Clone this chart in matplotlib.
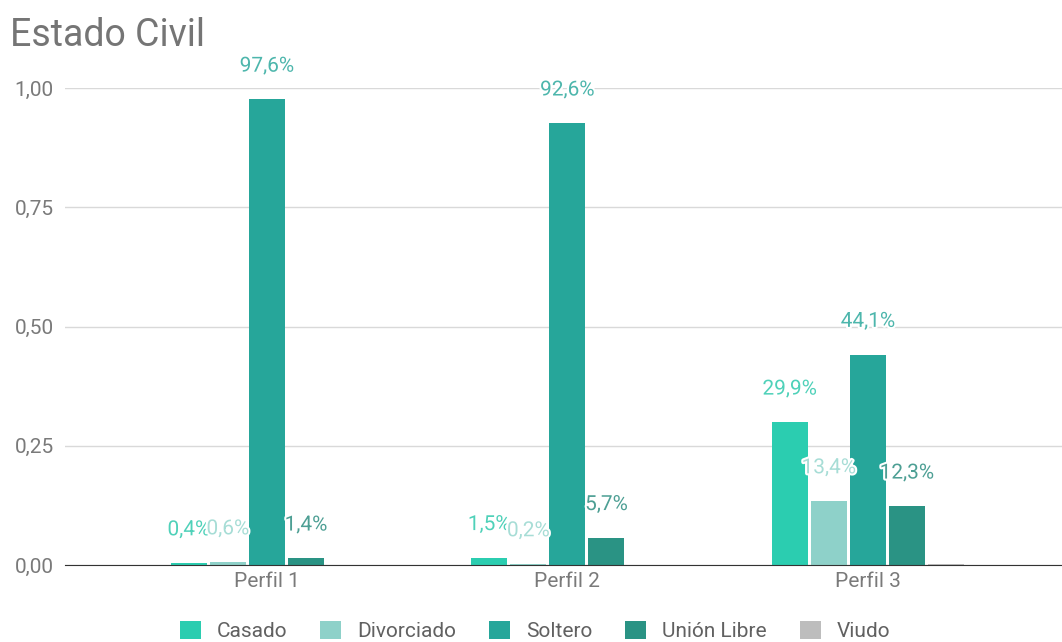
import numpy as np
import matplotlib
matplotlib.use("Agg")
import matplotlib.pyplot as plt
import matplotlib.patheffects as pe

plt.rcParams['font.family'] = ['Roboto', 'DejaVu Sans']

# ---- datos ----
perfiles = ["Perfil 1", "Perfil 2", "Perfil 3"]
series = ["Casado", "Divorciado", "Soltero", "Unión Libre", "Viudo"]
casado = [0.004, 0.015, 0.299]
divorciado = [0.006, 0.002, 0.134]
soltero = [0.976, 0.926, 0.441]
union_libre = [0.014, 0.057, 0.123]
viudo = [0.0, 0.0, 0.003]
y_ticks = [0.0, 0.25, 0.5, 0.75, 1.0]
y_tick_labels = ["0,00", "0,25", "0,50", "0,75", "1,00"]

valores = [casado, divorciado, soltero, union_libre, viudo]
colores = ["#2bcdb0", "#8ed1c9", "#26a69a", "#2a9384", "#bdbdbd"]
colores_etq = ["#4fd1b9", "#a7ddd6", "#4db6ac", "#4d9f94", None]

fig = plt.figure(figsize=(10.62, 6.42), dpi=100)
ax = fig.add_axes([65 / 1062, 1 - 565 / 642, 1 - 65 / 1062, (565 - 88) / 642])

x = np.arange(len(perfiles))
paso = 0.13
ancho = 0.12
for i, (nombre, vals) in enumerate(zip(series, valores)):
    pos = x + (i - 2) * paso
    ax.bar(pos, vals, width=ancho, color=colores[i], label=nombre, zorder=3)
    if colores_etq[i] is None:
        continue
    for xp, v in zip(pos, vals):
        t = ax.annotate(f"{v * 100:.1f}%".replace(".", ","), (xp, v),
                        xytext=(0, 20), textcoords="offset points",
                        ha="center", va="baseline", fontsize=15,
                        color=colores_etq[i], zorder=5, annotation_clip=False)
        t.set_path_effects([pe.withStroke(linewidth=3, foreground="white")])

ax.set_xlim(-0.672, 2.646)
ax.set_ylim(0, 1.0)
ax.set_yticks(y_ticks)
ax.set_yticklabels(y_tick_labels)
ax.set_xticks(x)
ax.set_xticklabels(perfiles)
ax.tick_params(axis="both", length=0, labelsize=15, labelcolor="#7a7a7a")
ax.tick_params(axis="y", pad=8)
ax.tick_params(axis="x", pad=5)
ax.grid(axis="y", color="#d9d9d9", linewidth=1, zorder=0)
for s in ["top", "right", "left"]:
    ax.spines[s].set_visible(False)
ax.spines["bottom"].set_color("#333333")
ax.spines["bottom"].set_zorder(4)

fig.text(10 / 1062, 1 - 36 / 642, "Estado Civil", fontsize=27, color="#757575",
         va="center", ha="left")

fig.legend(loc="center", bbox_to_anchor=(535 / 1062, 1 - 631 / 642), ncol=5,
           frameon=False, fontsize=15, handlelength=1.0, handleheight=1.0,
           columnspacing=1.6, handletextpad=0.75, labelcolor="#616161")

fig.savefig("out.png", dpi=100)
